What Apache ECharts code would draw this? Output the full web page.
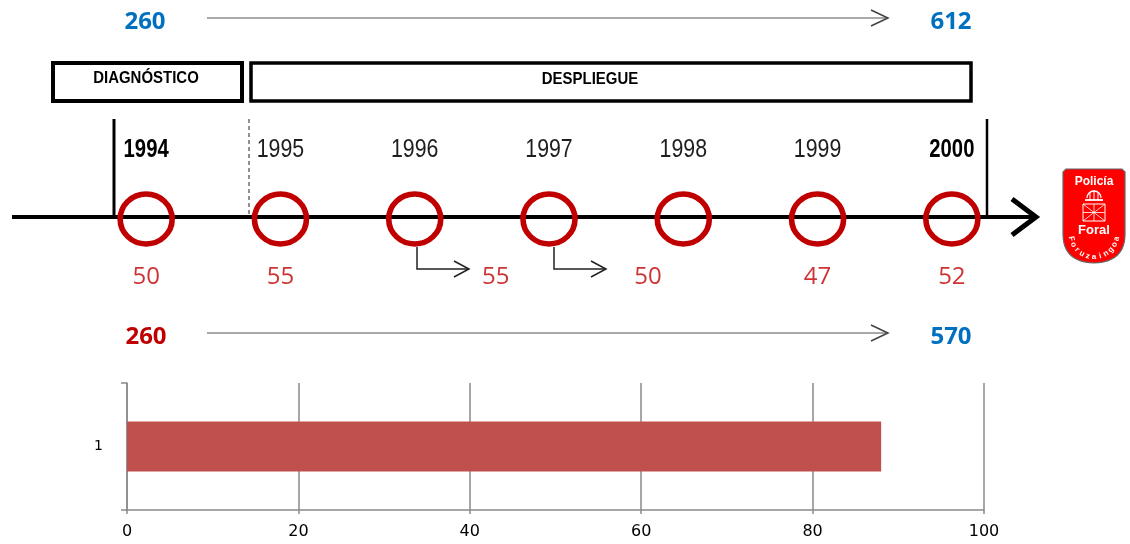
<!DOCTYPE html>
<html>
<head>
<meta charset="utf-8">
<script src="https://cdn.jsdelivr.net/npm/echarts@6/dist/echarts.min.js"></script>
<style>html,body{margin:0;padding:0;background:#fff}#c{width:1130px;height:544px}</style>
</head>
<body>
<div id="c"></div>
<script>
// ---- data ----
const years = ['1994', '1995', '1996', '1997', '1998', '1999', '2000'];
const boldYears = ['1994', '2000'];
const intake = [50, 55, 55, 50, null, 47, 52];
const phases = ['DIAGNÓSTICO', 'DESPLIEGUE'];
const topFlow = [260, 612];
const bottomFlow = [260, 570];
const barCategories = ['1'];
const barValues = [88];
const barAxis = { min: 0, max: 100, interval: 20 };

// ---- styling helpers (positions / styles, not data) ----
const arial = "'Liberation Sans',Arial,sans-serif";
const calib = "'Open Sans','Noto Sans',sans-serif";
const shiftedValueLabel = { '1996': [81, 58], '1997': [99, 58] };

const chart = echarts.init(document.getElementById('c'), null, { renderer: 'canvas' });

const circleData = years.map(y => [y, 0]);
const yearData = years.map(y => [y, 0]);
const valueData = [];
intake.forEach((v, i) => {
  if (v == null) return;
  const y = years[i];
  valueData.push({ value: [y, 0, v], label: { offset: shiftedValueLabel[y] || [0, 58] } });
});

// decorative graphics
const g = [];
function line(x1, y1, x2, y2, w, c, dash) {
  g.push({ type: 'line', shape: { x1, y1, x2, y2 }, style: { stroke: c, lineWidth: w, lineDash: dash || null }, silent: true });
}
function poly(points, w, c) {
  g.push({ type: 'polyline', shape: { points }, style: { stroke: c, lineWidth: w, fill: null }, silent: true });
}
function text(t, x, y, font, color, sx) {
  g.push({ type: 'text', x, y, scaleX: sx || 1, style: { text: t, font, fill: color, align: 'center', verticalAlign: 'middle' }, silent: true });
}
// flow arrows
line(207, 18, 888, 18, 1.5, '#8c8c8c');
poly([[871, 10], [888, 18], [871, 26]], 1.5, '#404040');
text(String(topFlow[0]), 145, 22, 'bold 24px ' + calib, '#0070C0');
text(String(topFlow[1]), 951, 22, 'bold 24px ' + calib, '#0070C0');

line(207, 333, 888, 333, 1.5, '#8c8c8c');
poly([[871, 325], [888, 333], [871, 341]], 1.5, '#404040');
text(String(bottomFlow[0]), 146, 337, 'bold 24px ' + calib, '#C00000');
text(String(bottomFlow[1]), 951, 337, 'bold 24px ' + calib, '#0070C0');

// phase boxes
g.push({ type: 'rect', shape: { x: 53, y: 63, width: 189, height: 38 }, style: { fill: null, stroke: '#000', lineWidth: 4 }, silent: true });
g.push({ type: 'rect', shape: { x: 251, y: 63, width: 720, height: 38 }, style: { fill: null, stroke: '#000', lineWidth: 3.5 }, silent: true });
text(phases[0], 146, 78, 'bold 17px ' + arial, '#000', 0.88);
text(phases[1], 590, 79, 'bold 17px ' + arial, '#000', 0.88);

// timeline axis
line(12, 217, 1032, 217, 4, '#000');
poly([[1012, 199], [1036, 217], [1012, 235]], 5, '#000');
line(114, 119, 114, 218, 3, '#000');
line(249, 119, 249, 217, 1, '#222', [4, 3]);
line(987, 119, 987, 218, 2.5, '#000');

// elbow arrows
poly([[417, 247], [417, 269], [469, 269]], 1.5, '#222');
poly([[454, 261], [469, 269], [454, 277]], 1.5, '#222');
poly([[554, 247], [554, 269], [606, 269]], 1.5, '#222');
poly([[591, 261], [606, 269], [591, 277]], 1.5, '#222');

// logo (shield)
(function () {
  const pts = [[1063, 172], [1066, 169], [1122, 169], [1125, 172], [1125, 234]];
  function qb(p0, p1, p2) {
    for (let i = 1; i <= 12; i++) {
      const t = i / 12, u = 1 - t;
      pts.push([u * u * p0[0] + 2 * u * t * p1[0] + t * t * p2[0], u * u * p0[1] + 2 * u * t * p1[1] + t * t * p2[1]]);
    }
  }
  qb([1125, 234], [1125, 262], [1094, 263]);
  qb([1094, 263], [1063, 262], [1063, 234]);
  g.push({ type: 'polygon', shape: { points: pts }, style: { fill: '#FF0000', stroke: '#666', lineWidth: 1.2 }, silent: true });
})();
text('Policía', 1094, 182, 'bold 12px ' + arial, '#fff');
// crown
g.push({ type: 'arc', shape: { cx: 1094, cy: 198, r: 7, startAngle: Math.PI, endAngle: 2 * Math.PI }, style: { stroke: '#fff', lineWidth: 1.3, fill: null }, silent: true });
line(1085, 200, 1103, 200, 1.8, '#fff');
line(1090, 200, 1090, 193, 1, '#fff');
line(1094, 200, 1094, 190, 1, '#fff');
line(1098, 200, 1098, 193, 1, '#fff');
// chains
g.push({ type: 'rect', shape: { x: 1083, y: 204, width: 22, height: 17 }, style: { fill: null, stroke: '#fff', lineWidth: 1 }, silent: true });
line(1083, 204, 1105, 221, 0.8, '#fff');
line(1105, 204, 1083, 221, 0.8, '#fff');
line(1094, 204, 1094, 221, 0.8, '#fff');
line(1083, 212.5, 1105, 212.5, 0.8, '#fff');
text('Foral', 1094, 230, 'bold 13px ' + arial, '#fff');
(function () {
  const word = 'Foruzaingoa';
  const cx = 1094, cy = 234, r = 23;
  const a0 = 168, a1 = 12;
  for (let i = 0; i < word.length; i++) {
    const th = a0 + (a1 - a0) * (i / (word.length - 1));
    const rad = th * Math.PI / 180;
    g.push({ type: 'text', x: cx + r * Math.cos(rad), y: cy + r * Math.sin(rad),
      rotation: -(th - 90) * Math.PI / 180,
      style: { text: word[i], font: 'bold 8px ' + arial, fill: '#fff', align: 'center', verticalAlign: 'middle' }, silent: true });
  }
})();

const option = {
  animation: false,
  backgroundColor: '#fff',
  grid: [
    { left: 79, right: 111, top: 119, height: 200 },
    { left: 127, right: 146, top: 383, bottom: 34 }
  ],
  xAxis: [
    { gridIndex: 0, type: 'category', data: years, boundaryGap: true, show: false },
    { gridIndex: 1, type: 'value', min: barAxis.min, max: barAxis.max, interval: barAxis.interval,
      axisLine: { show: true, lineStyle: { color: '#8a8a8a', width: 1.5 } },
      axisTick: { show: true, length: 4, lineStyle: { color: '#8a8a8a', width: 1.5 } },
      splitLine: { show: true, lineStyle: { color: '#8a8a8a', width: 1.5 } },
      axisLabel: { fontFamily: 'DejaVu Sans', fontSize: 16, color: '#000', margin: 14 } }
  ],
  yAxis: [
    { gridIndex: 0, type: 'value', min: -1, max: 1, show: false },
    { gridIndex: 1, type: 'category', data: barCategories,
      axisLine: { show: true, lineStyle: { color: '#8a8a8a', width: 1.5 } },
      axisTick: { show: true, length: 6, lineStyle: { color: '#8a8a8a', width: 1.5 } },
      axisLabel: { fontFamily: 'DejaVu Sans', fontSize: 14, color: '#000', margin: 24 } }
  ],
  series: [
    { type: 'scatter', xAxisIndex: 0, yAxisIndex: 0, data: circleData, symbol: 'circle', symbolSize: [52, 50], z: 3,
      itemStyle: { color: 'rgba(0,0,0,0)', borderColor: '#C00000', borderWidth: 5.5, opacity: 1 }, silent: true },
    { type: 'custom', xAxisIndex: 0, yAxisIndex: 0, data: yearData, silent: true,
      renderItem: function (params, api) {
        const yr = years[params.dataIndex];
        const pt = api.coord([api.value(0), 0]);
        const bold = boldYears.includes(yr);
        return { type: 'text', x: pt[0], y: pt[1] - 69, scaleX: bold ? 0.78 : 0.82,
          style: { text: yr, font: (bold ? 'bold ' : '') + '26px ' + arial, fill: bold ? '#000' : '#1e1e1e',
            align: 'center', verticalAlign: 'middle' } };
      } },
    { type: 'scatter', xAxisIndex: 0, yAxisIndex: 0, data: valueData, symbolSize: 0, silent: true,
      label: { show: true, position: 'inside', formatter: p => String(p.value[2]),
        fontFamily: calib, fontSize: 24, color: '#C00000' } },
    { type: 'bar', xAxisIndex: 1, yAxisIndex: 1, data: barValues, barWidth: 50,
      itemStyle: { color: '#C0504D' }, silent: true }
  ],
  graphic: g
};
chart.setOption(option);
</script>
</body>
</html>
